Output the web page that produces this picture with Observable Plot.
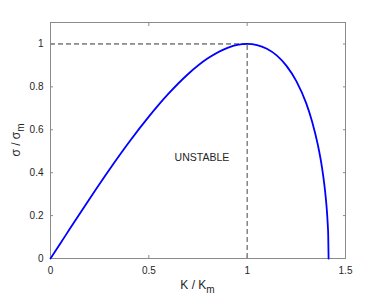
<!DOCTYPE html>
<html>
<head>
<meta charset="utf-8">
<script src="https://cdn.jsdelivr.net/npm/d3@7"></script>
<script src="https://cdn.jsdelivr.net/npm/@observablehq/plot@0.6"></script>
<style>
  html, body { margin: 0; padding: 0; background: #fff; }
</style>
</head>
<body>
<div id="chart"></div>
<script>
// Growth rate curve
const kValues = [0, 0.05, 0.1, 0.2, 0.3, 0.4, 0.5, 0.6, 0.7, 0.8, 0.9, 0.95, 1.0, 1.05, 1.1, 1.15, 1.2, 1.25, 1.3, 1.33, 1.36, 1.38, 1.4, 1.405, 1.41, 1.412, 1.414];
const sigmaValues = [0, 0.07, 0.141, 0.28, 0.415, 0.543, 0.661, 0.768, 0.860, 0.933, 0.982, 0.996, 1.0, 0.995, 0.978, 0.947, 0.898, 0.827, 0.724, 0.639, 0.527, 0.427, 0.28, 0.227, 0.154, 0.112, 0];

// Reference (dashed) lines
const peakK = [1.0];
const peakSigma = [1.0];

// Annotation
const noteText = ["UNSTABLE"];
const noteX = [0.77];
const noteY = [0.47];

// Ticks
const xTicks = [0, 0.5, 1, 1.5];
const yTicks = [0, 0.2, 0.4, 0.6, 0.8, 1];

const curve = kValues.map((k, i) => ({k, s: sigmaValues[i]}));
const notes = noteText.map((t, i) => ({t, x: noteX[i], y: noteY[i]}));

const axisGrey = "#8a8a8a";
const fmt = d => String(d);

const svg = Plot.plot({
  width: 382,
  height: 295,
  marginLeft: 50,
  marginRight: 37,
  marginTop: 22,
  marginBottom: 37,
  x: {domain: [0, 1.5]},
  y: {domain: [0, 1.1]},
  style: {fontFamily: "'Liberation Sans', Arial, sans-serif", fontSize: "10px", color: "#262626", background: "#fff"},
  marks: [
    Plot.ruleY(peakSigma, {x1: 0, x2: peakK[0], stroke: "#333", strokeWidth: 1, strokeDasharray: "5,3"}),
    Plot.ruleX(peakK, {y1: 0, y2: peakSigma[0], stroke: "#666", strokeWidth: 1.2, strokeDasharray: "5,3"}),
    Plot.frame({stroke: axisGrey}),
    Plot.axisX({ticks: xTicks, tickSize: -3, tickPadding: 11, tickFormat: fmt, label: null, stroke: axisGrey}),
    Plot.axisX({anchor: "top", ticks: xTicks, tickSize: -3, tickFormat: () => "", label: null, stroke: axisGrey}),
    Plot.axisY({ticks: yTicks, tickSize: -3, tickPadding: 10, tickFormat: fmt, label: null, stroke: axisGrey}),
    Plot.axisY({anchor: "right", ticks: yTicks, tickSize: -3, tickFormat: () => "", label: null, stroke: axisGrey}),
    Plot.line(curve, {x: "k", y: "s", stroke: "#0000ff", strokeWidth: 1.8, curve: "monotone-x"}),
    Plot.text(notes, {x: "x", y: "y", text: "t", fontSize: 10.5, fill: "#262626"})
  ]
});

const s = d3.select(svg);
// x label
const xl = s.append("text")
  .attr("x", 197.5).attr("y", 289)
  .attr("text-anchor", "middle")
  .attr("font-size", 12)
  .attr("fill", "#262626")
  .attr("font-family", "'Liberation Sans', Arial, sans-serif");
xl.append("tspan").text("K / K");
xl.append("tspan").attr("dy", 4).attr("font-size", 10).text("m");

// y label
const yl = s.append("text")
  .attr("transform", "translate(20,140) rotate(-90)")
  .attr("text-anchor", "middle")
  .attr("font-size", 12)
  .attr("fill", "#262626")
  .attr("font-family", "'Liberation Sans', Arial, sans-serif");
yl.append("tspan").text("σ / σ");
yl.append("tspan").attr("dy", 4).attr("font-size", 10).text("m");

document.getElementById("chart").appendChild(svg);
</script>
</body>
</html>
